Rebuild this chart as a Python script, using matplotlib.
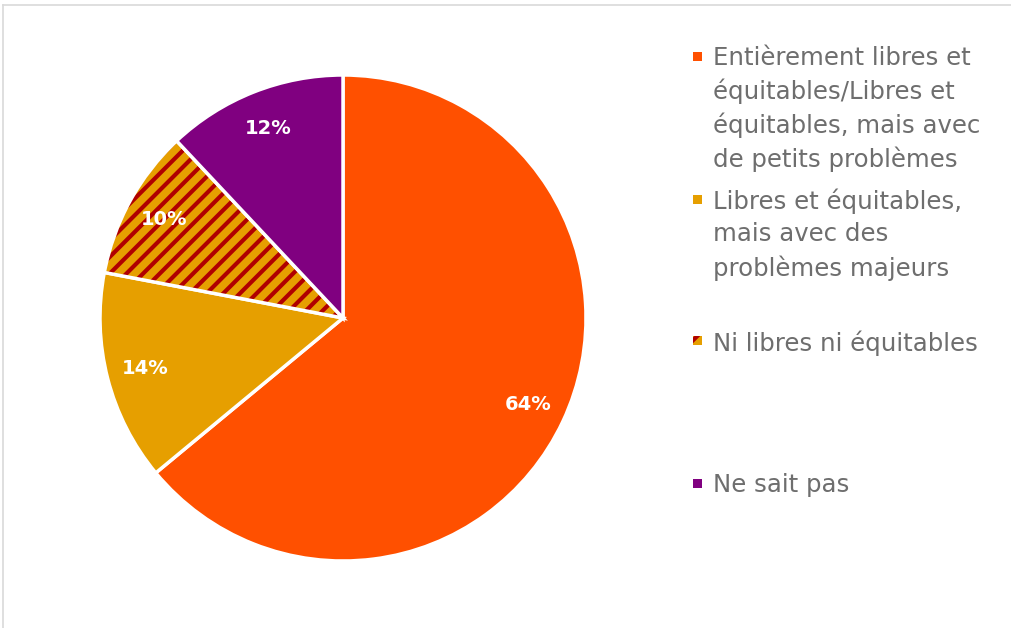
import matplotlib
matplotlib.use("Agg")
import matplotlib.pyplot as plt
from matplotlib.patches import Rectangle

plt.rcParams['hatch.linewidth'] = 3.0

# Survey shares, clockwise from 12 o'clock
labels = [
    "Entièrement libres et\néquitables/Libres et\néquitables, mais avec\nde petits problèmes",
    "Libres et équitables,\nmais avec des\nproblèmes majeurs",
    "Ni libres ni équitables",
    "Ne sait pas",
]
shares = [64, 14, 10, 12]
colors = ["#FF5000", "#E69F00", "#E69F00", "#800080"]
hatches = [None, None, "//", None]
hatch_color = "#B00000"

fig = plt.figure(figsize=(10.12, 6.28), dpi=100)
W, H = 1012, 628

# light outline of the chart area
fig.add_artist(plt.Line2D([3 / W, 3 / W], [0, 1 - 5 / H], color="#D9D9D9", lw=1.2))
fig.add_artist(plt.Line2D([3 / W, 1], [1 - 5 / H, 1 - 5 / H], color="#D9D9D9", lw=1.2))

cx, cy, r = 343, 318, 243
ax = fig.add_axes([(cx - r) / W, (H - cy - r) / H, 2 * r / W, 2 * r / H])
wedges, texts, autotexts = ax.pie(
    shares, colors=colors, startangle=90, counterclock=False,
    autopct=lambda p: f"{p:.0f}%", pctdistance=0.84,
    wedgeprops=dict(edgecolor="white", linewidth=2.5),
    textprops=dict(color="white", fontsize=14, fontweight="bold", family="DejaVu Sans"),
)
for w, h in zip(wedges, hatches):
    if h:
        w.set_hatch(h)
        w._hatch_color = matplotlib.colors.to_rgba(hatch_color)
ax.set_xlim(-1, 1)
ax.set_ylim(-1, 1)
ax.set_aspect("auto")
ax.axis("off")

# legend drawn by hand, one block per category
legend_y = [57, 200, 341, 484]
for lab, col, h, y in zip(labels, colors, hatches, legend_y):
    sq = Rectangle((693 / W, 1 - (y + 4) / H), 9 / W, 9 / H, transform=fig.transFigure,
                   facecolor=col, edgecolor=hatch_color if h else col, lw=0, hatch=h)
    fig.add_artist(sq)
    fig.text(713 / W, 1 - (y - 11) / H, lab, ha="left", va="top", fontsize=17.6,
             color="#6E6E6E", linespacing=1.42, family="DejaVu Sans")

fig.savefig("out.png", dpi=100)
